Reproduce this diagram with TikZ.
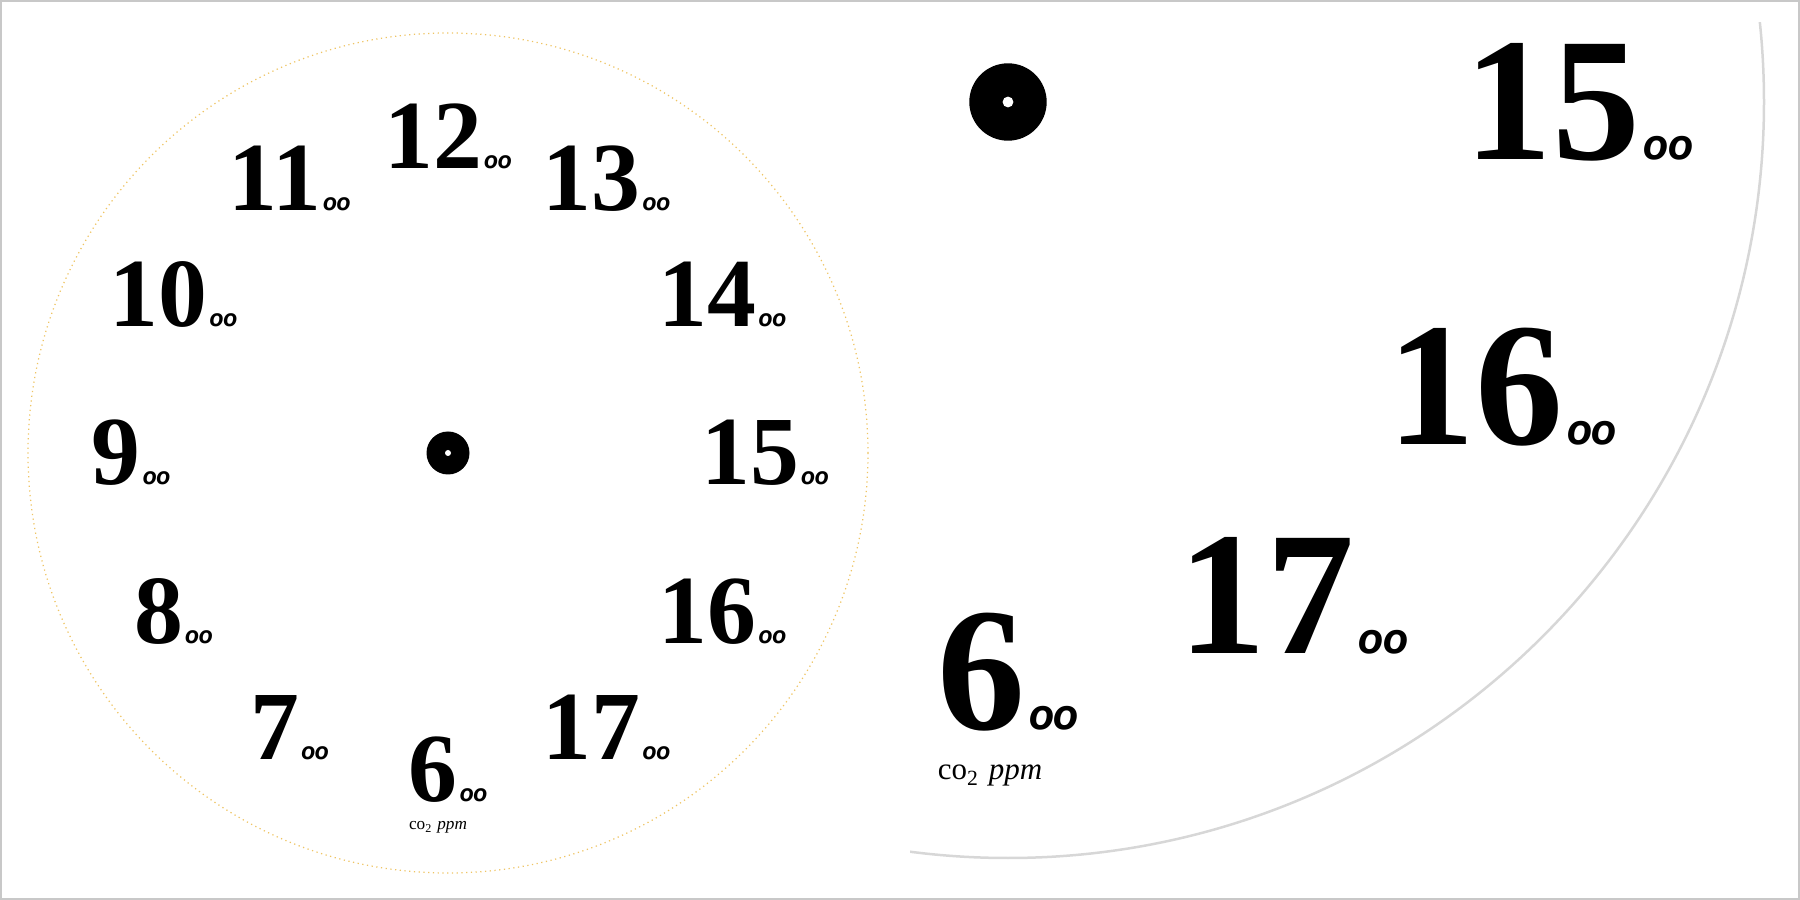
\documentclass[tikz,border=0pt]{standalone}
\usepackage{fontspec}
\setmainfont{Liberation Serif}
\newfontfamily\minutefont[Numbers=OldStyle]{Fira Sans}
\usetikzlibrary{positioning}

\definecolor{dialgold}{RGB}{238,196,100}
\definecolor{framegray}{RGB}{200,200,200}
\definecolor{arcgray}{RGB}{215,215,215}

% hour label: big number + small "00"
\newcommand{\hourlabel}[1]{{\fontsize{27.8}{28}\selectfont\bfseries #1}\kern0.6pt{\minutefont\bfseries\itshape\fontsize{6.3}{7}\selectfont 00}}

% numbers, unit and hub of the dial, centred at (0,0)
\newcommand{\clockface}[2]{%
  \foreach \h in {#2} {
    \node[hour] (#1-\h) at ({90-(\h-12)*30}:3.17) {\hourlabel{\h}};
  }
  \node[unit, below=0.17cm of #1-6, xshift=-0.1cm] (#1-unit) {co\textsubscript{2} \textit{ppm}};
  \node[hub] (#1-hub) at (0,0) {};
  \fill[white] (#1-hub.center) circle (0.03);
}

\begin{document}
\begin{tikzpicture}[
    hour/.style={inner sep=0pt, text=black},
    unit/.style={inner sep=0pt, font=\fontsize{4.9}{6}\selectfont},
    hub/.style={circle, fill=black, inner sep=0pt, minimum size=0.43cm}
]
    \useasboundingbox (0,0) rectangle (18,9);
    \draw[framegray, line width=0.02cm] (0.01,0.01) rectangle (17.99,8.99);

    % full dial
    \begin{scope}[shift={(4.48,4.47)}]
        \draw[dialgold, densely dotted, line width=0.35pt] (0,0) circle (4.2);
        \clockface{l}{6,...,17}
    \end{scope}

    % enlarged part of the dial
    \begin{scope}
        \clip (9.10,0.05) rectangle (17.95,8.77);
        \begin{scope}[shift={(10.08,7.98)}, scale=1.8, transform shape]
            \draw[arcgray, line width=0.025cm] (0,0) circle (4.2);
            \clockface{r}{6,15,16,17}
        \end{scope}
    \end{scope}

\end{tikzpicture}
\end{document}
